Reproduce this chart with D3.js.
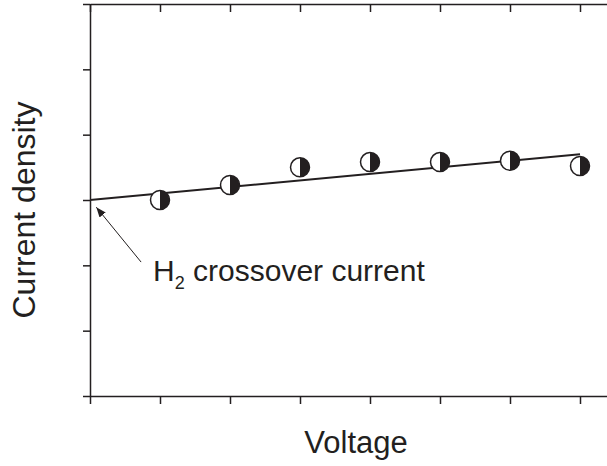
<!DOCTYPE html>
<html>
<head>
<meta charset="utf-8">
<script src="https://cdn.jsdelivr.net/npm/d3@7"></script>
<style>
  body { margin: 0; background: #fff; }
  svg { display: block; font-family: "Liberation Sans", Arial, sans-serif; }
</style>
</head>
<body>
<svg id="chart" width="607" height="466"></svg>
<script>
// measured points (arbitrary units, no tick labels on the original)
var voltage = [1, 2, 3, 4, 5, 6, 7];
var current = [3.0, 3.23, 3.5, 3.58, 3.58, 3.6, 3.52];
// linear fit drawn through the points
var fitX = [0, 7];
var fitY = [3.0, 3.7];
var xTicks = [0, 1, 2, 3, 4, 5, 6, 7];
var yTicks = [0, 1, 2, 3, 4, 5, 6];
// arrow + label, in data units
var arrowFrom = [0.73, 2.05];
var arrowTo = [0.09, 2.89];
var labelAt = [0.9, 1.76];

var config = {
    ink: "#231f20",
    left: 90, right: 608, top: 4, bottom: 396,
    radius: 9.5,
    labelSize: 30,
    titleSize: 31
};

var svg = d3.select("#chart");

var x = d3.scaleLinear().domain([0, 7.4]).range([config.left, config.right]);
var y = d3.scaleLinear().domain([0, 6]).range([config.bottom, config.top]);

svg.append("defs").append("marker")
    .attr("id", "head")
    .attr("viewBox", "0 0 10 10")
    .attr("refX", 10).attr("refY", 5)
    .attr("markerWidth", 10).attr("markerHeight", 10)
    .attr("markerUnits", "userSpaceOnUse")
    .attr("orient", "auto")
    .append("path")
    .attr("d", "M0,1 L10,5 L0,9 Z")
    .attr("fill", config.ink);

// axes
var styleAxis = (g) => {
    g.select(".domain").attr("stroke", config.ink).attr("stroke-width", 1.5);
    g.selectAll(".tick line").attr("stroke", config.ink).attr("stroke-width", 1.5);
    g.selectAll(".tick text").remove();
};

svg.append("g")
    .attr("transform", `translate(0,${config.bottom})`)
    .call(d3.axisBottom(x).tickValues(xTicks).tickSize(8).tickSizeOuter(0).tickFormat(""))
    .call(styleAxis);

svg.append("g")
    .attr("transform", `translate(0,${config.top})`)
    .call(d3.axisTop(x).tickValues(xTicks).tickSize(-8).tickSizeOuter(0).tickFormat(""))
    .call(styleAxis);

svg.append("g")
    .attr("transform", `translate(${config.left},0)`)
    .call(d3.axisLeft(y).tickValues(yTicks).tickSize(7).tickSizeOuter(0).tickFormat(""))
    .call(styleAxis);

// fit line
var fit = fitX.map((d, i) => ({ x: d, y: fitY[i] }));
svg.append("path")
    .datum(fit)
    .attr("d", d3.line().x((d) => x(d.x)).y((d) => y(d.y)))
    .attr("fill", "none")
    .attr("stroke", config.ink)
    .attr("stroke-width", 2);

// half-filled markers
var points = voltage.map((d, i) => ({ x: d, y: current[i] }));
var halfArc = d3.arc().innerRadius(0).outerRadius(config.radius).startAngle(0).endAngle(Math.PI);

var marks = svg.append("g").selectAll("g")
    .data(points)
    .join("g")
    .attr("transform", (d) => `translate(${x(d.x)},${y(d.y)})`);

marks.append("circle")
    .attr("r", config.radius)
    .attr("fill", "#fff")
    .attr("stroke", config.ink)
    .attr("stroke-width", 1.5);

marks.append("path")
    .attr("d", halfArc)
    .attr("fill", config.ink);

// annotation
svg.append("line")
    .attr("x1", x(arrowFrom[0])).attr("y1", y(arrowFrom[1]))
    .attr("x2", x(arrowTo[0])).attr("y2", y(arrowTo[1]))
    .attr("stroke", config.ink)
    .attr("stroke-width", 1)
    .attr("marker-end", "url(#head)");

var label = svg.append("text")
    .attr("x", x(labelAt[0])).attr("y", y(labelAt[1]))
    .attr("fill", config.ink)
    .attr("font-size", config.labelSize);
label.append("tspan").text("H");
label.append("tspan").attr("font-size", 18).attr("dy", 8).text("2");
label.append("tspan").attr("dy", -8).text(" crossover current");

// axis titles
svg.append("text")
    .attr("x", 356).attr("y", 453)
    .attr("text-anchor", "middle")
    .attr("fill", config.ink)
    .attr("font-size", config.titleSize)
    .text("Voltage");

svg.append("text")
    .attr("transform", "translate(35,210) rotate(-90)")
    .attr("text-anchor", "middle")
    .attr("fill", config.ink)
    .attr("font-size", config.titleSize + 1)
    .text("Current density");
</script>
</body>
</html>
